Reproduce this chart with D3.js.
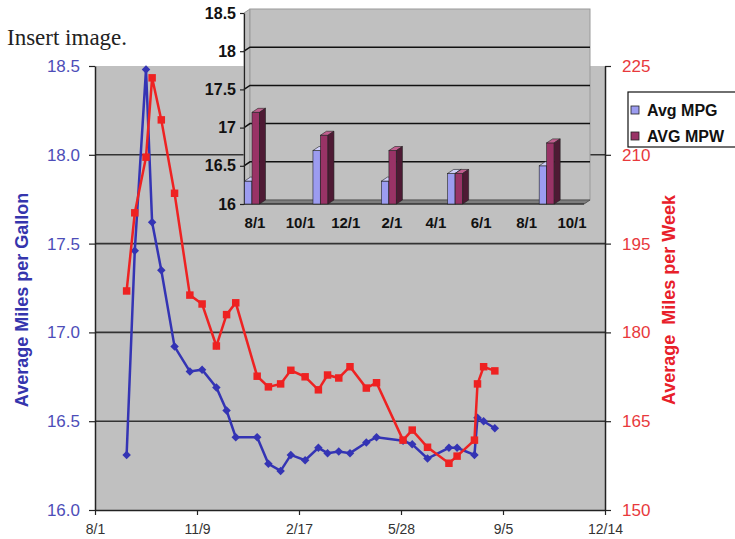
<!DOCTYPE html>
<html>
<head>
<meta charset="utf-8">
<script src="https://cdn.jsdelivr.net/npm/d3@7"></script>
<style>
  body { margin: 0; background: #fff; }
  svg { display: block; font-family: Arial, "Liberation Sans", sans-serif; }
</style>
</head>
<body>
<svg id="chart" width="735" height="539"></svg>
<script>
// weekly-ish readings, Aug 2006 .. Aug 2007
const dates = ["2006-09-01", "2006-09-09", "2006-09-20", "2006-09-26", "2006-10-05", "2006-10-18",
    "2006-11-02", "2006-11-14", "2006-11-28", "2006-12-08", "2006-12-17", "2007-01-07",
    "2007-01-18", "2007-01-30", "2007-02-09", "2007-02-23", "2007-03-08", "2007-03-17",
    "2007-03-28", "2007-04-08", "2007-04-24", "2007-05-04", "2007-05-30", "2007-06-08",
    "2007-06-23", "2007-07-14", "2007-07-22", "2007-08-08", "2007-08-11", "2007-08-17", "2007-08-28"];
const mpg = [16.31, 17.46, 18.48, 17.62, 17.35, 16.92, 16.78, 16.79, 16.69, 16.56, 16.41, 16.41,
    16.26, 16.22, 16.31, 16.28, 16.35, 16.32, 16.33, 16.32, 16.38, 16.41, 16.39, 16.37,
    16.29, 16.35, 16.35, 16.31, 16.52, 16.50, 16.46];
const mpw = [187.0, 200.2, 209.6, 223.0, 215.9, 203.5, 186.3, 184.8, 177.7, 183.0, 185.0, 172.6,
    170.8, 171.3, 173.6, 172.5, 170.3, 172.8, 172.3, 174.2, 170.6, 171.5, 161.8, 163.5,
    160.6, 157.9, 159.1, 161.8, 171.3, 174.2, 173.5];

const xTicks = ["2006-08-01", "2006-11-09", "2007-02-17", "2007-05-28", "2007-09-05", "2007-12-14"];
const mpgTicks = [16.0, 16.5, 17.0, 17.5, 18.0, 18.5];
const mpwTicks = [150, 165, 180, 195, 210, 225];

// inset (3d column chart)
const insetDates = ["2006-08-01", "2006-11-01", "2007-02-01", "2007-05-01", "2007-09-01"];
const insetMpg = [16.3, 16.7, 16.3, 16.4, 16.5];
const insetMpw = [17.2, 16.9, 16.7, 16.4, 16.8];
const insetXTicks = ["2006-08-01", "2006-10-01", "2006-12-01", "2007-02-01",
    "2007-04-01", "2007-06-01", "2007-08-01", "2007-10-01"];
const insetYTicks = [16, 16.5, 17, 17.5, 18, 18.5];
const legendLabels = ["Avg MPG", "AVG MPW"];

const parse = d3.timeParse("%Y-%m-%d");
const fmt = d3.timeFormat("%-m/%-d");

const svg = d3.select("#chart");

const plot = { left: 95, right: 605, top: 66, bottom: 510 };

const x = d3.scaleTime()
    .domain([parse("2006-08-01"), parse("2007-12-14")])
    .range([plot.left, plot.right]);
const yL = d3.scaleLinear().domain([16, 18.5]).range([plot.bottom, plot.top]);
const yR = d3.scaleLinear().domain([150, 225]).range([plot.bottom, plot.top]);

svg.append("text")
    .attr("x", 7).attr("y", 45)
    .style("font-family", "'Liberation Serif', 'Times New Roman', serif")
    .style("font-size", "23px")
    .attr("fill", "#222")
    .text("Insert image.");

svg.append("rect")
    .attr("x", plot.left).attr("y", plot.top)
    .attr("width", plot.right - plot.left).attr("height", plot.bottom - plot.top)
    .attr("fill", "#c0c0c0");

svg.append("g")
    .selectAll("line")
    .data(mpgTicks.slice(1, -1))
    .join("line")
    .attr("x1", plot.left).attr("x2", plot.right)
    .attr("y1", d => yL(d)).attr("y2", d => yL(d))
    .attr("stroke", "#333").attr("stroke-width", 1.6);

// axes
const leftAxis = svg.append("g")
    .attr("transform", `translate(${plot.left},0)`)
    .call(d3.axisLeft(yL).tickValues(mpgTicks).tickFormat(d3.format(".1f"))
        .tickSize(6).tickSizeOuter(0).tickPadding(9));
leftAxis.selectAll("text").attr("fill", "#4d4db8").style("font-size", "17px");

const rightAxis = svg.append("g")
    .attr("transform", `translate(${plot.right},0)`)
    .call(d3.axisRight(yR).tickValues(mpwTicks).tickSize(6).tickSizeOuter(0).tickPadding(11));
rightAxis.selectAll("text").attr("fill", "#e8393c").style("font-size", "17px");

const bottomAxis = svg.append("g")
    .attr("transform", `translate(0,${plot.bottom})`)
    .call(d3.axisBottom(x).tickValues(xTicks.map(parse)).tickFormat(fmt)
        .tickSize(5).tickSizeOuter(0).tickPadding(9));
bottomAxis.selectAll("text").attr("fill", "#333").style("font-size", "14px");

svg.selectAll(".domain").attr("stroke", "#222").attr("stroke-width", 1.5);
svg.selectAll(".tick line").attr("stroke", "#222").attr("stroke-width", 1.2);

svg.append("text")
    .attr("transform", "translate(28,300) rotate(-90)")
    .attr("text-anchor", "middle")
    .style("font-size", "18px").style("font-weight", "bold")
    .attr("fill", "#3535ad")
    .text("Average Miles per Gallon");

svg.append("text")
    .attr("transform", "translate(675,300) rotate(-90)")
    .attr("text-anchor", "middle")
    .style("font-size", "18px").style("font-weight", "bold")
    .style("white-space", "pre")
    .attr("fill", "#e8202a")
    .text("Average  Miles per Week");

// lines
const pts = dates.map((d, i) => ({ date: parse(d), mpg: mpg[i], mpw: mpw[i] }));

svg.append("path")
    .datum(pts)
    .attr("fill", "none").attr("stroke", "#3434b4").attr("stroke-width", 2.5)
    .attr("d", d3.line().x(d => x(d.date)).y(d => yL(d.mpg)));
svg.append("g")
    .selectAll("path")
    .data(pts)
    .join("path")
    .attr("transform", d => `translate(${x(d.date)},${yL(d.mpg)}) rotate(45)`)
    .attr("d", d3.symbol(d3.symbolSquare, 36))
    .attr("fill", "#3434b4");

svg.append("path")
    .datum(pts)
    .attr("fill", "none").attr("stroke", "#ee2222").attr("stroke-width", 2.5)
    .attr("d", d3.line().x(d => x(d.date)).y(d => yR(d.mpw)));
svg.append("g")
    .selectAll("path")
    .data(pts)
    .join("path")
    .attr("transform", d => `translate(${x(d.date)},${yR(d.mpw)})`)
    .attr("d", d3.symbol(d3.symbolSquare, 56))
    .attr("fill", "#ee2222");

// ---- inset 3d column chart ----
const ins = svg.append("g");
const dx = 6, dy = -4;
const ix = d3.scaleTime()
    .domain([parse("2006-08-01"), parse("2007-10-01")])
    .range([255, 572]);
const iy = d3.scaleLinear().domain([16, 18.5]).range([204, 13]);
const ixLeft = 244, ixRight = 584;

// side wall, back wall, floor
ins.append("path")
    .attr("d", `M${ixLeft},${iy(18.5)}L${ixLeft + dx},${iy(18.5) + dy}L${ixLeft + dx},${iy(16) + dy}L${ixLeft},${iy(16)}Z`)
    .attr("fill", "#c0c0c0").attr("stroke", "#999");
ins.append("rect")
    .attr("x", ixLeft + dx).attr("y", iy(18.5) + dy)
    .attr("width", ixRight - ixLeft).attr("height", iy(16) - iy(18.5))
    .attr("fill", "#c0c0c0").attr("stroke", "#9a9a9a");
ins.append("path")
    .attr("d", `M${ixLeft},${iy(16)}L${ixLeft + dx},${iy(16) + dy}L${ixRight + dx},${iy(16) + dy}L${ixRight},${iy(16)}Z`)
    .attr("fill", "#7d7d7d").attr("stroke", "#555");

ins.append("g")
    .selectAll("path")
    .data(insetYTicks.slice(1, -1))
    .join("path")
    .attr("d", d => `M${ixLeft},${iy(d)}L${ixLeft + dx},${iy(d) + dy}L${ixRight + dx},${iy(d) + dy}`)
    .attr("fill", "none").attr("stroke", "#111").attr("stroke-width", 1.5);

const insAxis = ins.append("g")
    .attr("transform", `translate(${ixLeft},0)`)
    .call(d3.axisLeft(iy).tickValues(insetYTicks).tickFormat(d3.format("")).tickSize(4).tickSizeOuter(0).tickPadding(4));
insAxis.selectAll("text").style("font-size", "16px").style("font-weight", "bold").attr("fill", "#111");
insAxis.selectAll(".domain, .tick line").attr("stroke", "#222").attr("stroke-width", 1.2);

ins.append("line")
    .attr("x1", ixLeft).attr("x2", ixRight)
    .attr("y1", iy(16)).attr("y2", iy(16))
    .attr("stroke", "#222").attr("stroke-width", 1.2);

ins.append("g")
    .selectAll("text")
    .data(insetXTicks)
    .join("text")
    .attr("x", d => ix(parse(d)))
    .attr("y", 228)
    .attr("text-anchor", "middle")
    .style("font-size", "15px").style("font-weight", "bold")
    .attr("fill", "#111")
    .text(d => fmt(parse(d)));

const series = [
    { key: "mpg", values: insetMpg, front: "#9c9cf0", top: "#cfcff8", side: "#6a6ab0" },
    { key: "mpw", values: insetMpw, front: "#993366", top: "#c0608f", side: "#4e1a34" }
];
const sb = d3.scaleBand().domain(series.map(s => s.key)).range([-10.5, 4.5]);
const bw = sb.bandwidth();

const bars = [];
insetDates.forEach((d, i) => {
    series.forEach(s => bars.push({ date: parse(d), v: s.values[i], s }));
});

const barG = ins.append("g")
    .selectAll("g")
    .data(bars)
    .join("g");

barG.append("rect")
    .attr("x", d => ix(d.date) + sb(d.s.key))
    .attr("y", d => iy(d.v))
    .attr("width", bw)
    .attr("height", d => iy(16) - iy(d.v))
    .attr("fill", d => d.s.front).attr("stroke", "#222").attr("stroke-width", 0.6);
barG.append("path")
    .attr("d", d => {
        const x0 = ix(d.date) + sb(d.s.key), y0 = iy(d.v);
        return `M${x0},${y0}L${x0 + dx},${y0 + dy}L${x0 + bw + dx},${y0 + dy}L${x0 + bw},${y0}Z`;
    })
    .attr("fill", d => d.s.top).attr("stroke", "#222").attr("stroke-width", 0.6);
barG.append("path")
    .attr("d", d => {
        const x1 = ix(d.date) + sb(d.s.key) + bw, y0 = iy(d.v), y1 = iy(16);
        return `M${x1},${y0}L${x1 + dx},${y0 + dy}L${x1 + dx},${y1 + dy}L${x1},${y1}Z`;
    })
    .attr("fill", d => d.s.side).attr("stroke", "#222").attr("stroke-width", 0.6);

// legend
const leg = svg.append("g");
leg.append("rect")
    .attr("x", 628).attr("y", 92).attr("width", 120).attr("height", 55)
    .attr("fill", "#fff").attr("stroke", "#111").attr("stroke-width", 1.2);
const legItem = leg.selectAll("g.item")
    .data(legendLabels)
    .join("g")
    .attr("class", "item")
    .attr("transform", (d, i) => `translate(631,${110 + i * 26})`);
legItem.append("rect")
    .attr("x", 0).attr("y", -4).attr("width", 8).attr("height", 8)
    .attr("fill", (d, i) => series[i].front).attr("stroke", "#222").attr("stroke-width", 0.8);
legItem.append("text")
    .attr("x", 16).attr("dy", "0.35em")
    .style("font-size", "16px").style("font-weight", "bold")
    .attr("fill", "#111")
    .text(d => d);
</script>
</body>
</html>
